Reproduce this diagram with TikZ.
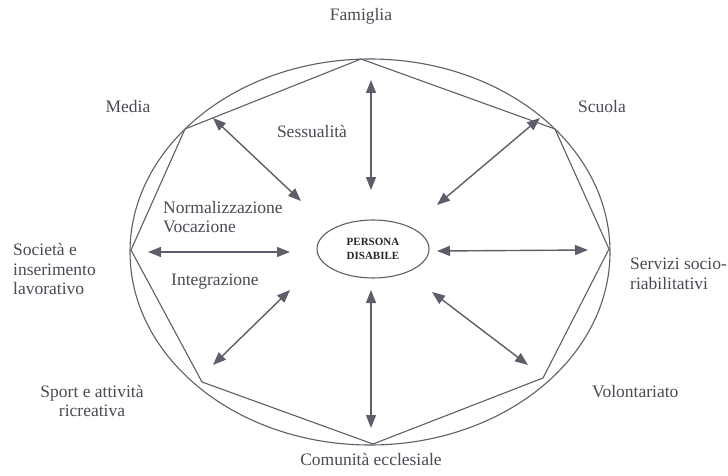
\documentclass[tikz,border=0pt]{standalone}
\usepackage{fontspec}
\setmainfont{Liberation Serif}
\usetikzlibrary{arrows.meta,shapes.geometric}
\definecolor{ln}{HTML}{5E5E6A}
\definecolor{tx}{HTML}{4A4A55}
\tikzset{
  lbl/.style={text=tx,font=\fontsize{17.5}{19.5}\selectfont,inner sep=0pt},
  lblL/.style={lbl,anchor=west,align=left},
  lblC/.style={lbl,align=center},
  outline/.style={draw=ln,line width=1.1pt},
  dbl/.style={draw=ln,line width=1.4pt,{Triangle[length=13pt,width=10pt]}-{Triangle[length=13pt,width=10pt]}}
}
\begin{document}
\begin{tikzpicture}[x=1pt,y=-1pt]
\useasboundingbox (0,0) rectangle (728,476);
% outer ellipse
\draw[outline] (370,252) ellipse [x radius=240, y radius=193];
% octagon
\coordinate (vT) at (361,59);
\coordinate (vTR) at (555,129);
\coordinate (vR) at (609,249);
\coordinate (vBR) at (543,378);
\coordinate (vB) at (373,444);
\coordinate (vBL) at (202,382);
\coordinate (vL) at (131,250);
\coordinate (vTL) at (185,129);
\draw[outline,line join=miter] (vT) -- (vTR) -- (vR) -- (vBR) -- (vB) -- (vBL) -- (vL) -- (vTL) -- cycle;
% centre
\node[ellipse,draw=ln,line width=1.1pt,minimum width=112pt,minimum height=58pt,inner sep=0pt,
  text=black!85,font=\fontsize{11}{13.5}\selectfont\bfseries,align=center] (pd) at (373,249) {PERSONA\\DISABILE};
% arrow endpoints
\coordinate (aUi) at (371,190); \coordinate (aUo) at (371,80);
\coordinate (aDi) at (371,290); \coordinate (aDo) at (371,428);
\coordinate (aLi) at (290,252); \coordinate (aLo) at (148,252);
\coordinate (aRi) at (437,251); \coordinate (aRo) at (588,250);
\coordinate (aULi) at (301,201); \coordinate (aULo) at (213,118);
\coordinate (aURi) at (437,205); \coordinate (aURo) at (540,118);
\coordinate (aLLi) at (290,290); \coordinate (aLLo) at (213,365);
\coordinate (aLRi) at (432,292); \coordinate (aLRo) at (528,365);
\draw[dbl] (aUi) -- (aUo);
\draw[dbl] (aDi) -- (aDo);
\draw[dbl] (aLi) -- (aLo);
\draw[dbl] (aRi) -- (aRo);
\draw[dbl] (aULi) -- (aULo);
\draw[dbl] (aURi) -- (aURo);
\draw[dbl] (aLLi) -- (aLLo);
\draw[dbl] (aLRi) -- (aLRo);
% outer labels
\node[lblC] (famiglia) at (361,16) {Famiglia};
\node[lblC] (media) at (128,107) {Media};
\node[lblL] (scuola) at (578,107) {Scuola};
\node[lblL] (societa) at (13,269) {Società e\\inserimento\\lavorativo};
\node[lblL] (servizi) at (630,274) {Servizi socio-\\riabilitativi};
\node[lblC] (sport) at (92,401) {Sport e attività\\ricreativa};
\node[lblL] (volont) at (592,392) {Volontariato};
\node[lblC] (comunita) at (371,459) {Comunità ecclesiale};
% inner labels
\node[lblC] (sessualita) at (312,132) {Sessualità};
\node[lblL] (norm) at (163,217) {Normalizzazione\\Vocazione};
\node[lblL] (integr) at (171,282) {Integrazione};
\end{tikzpicture}
\end{document}
